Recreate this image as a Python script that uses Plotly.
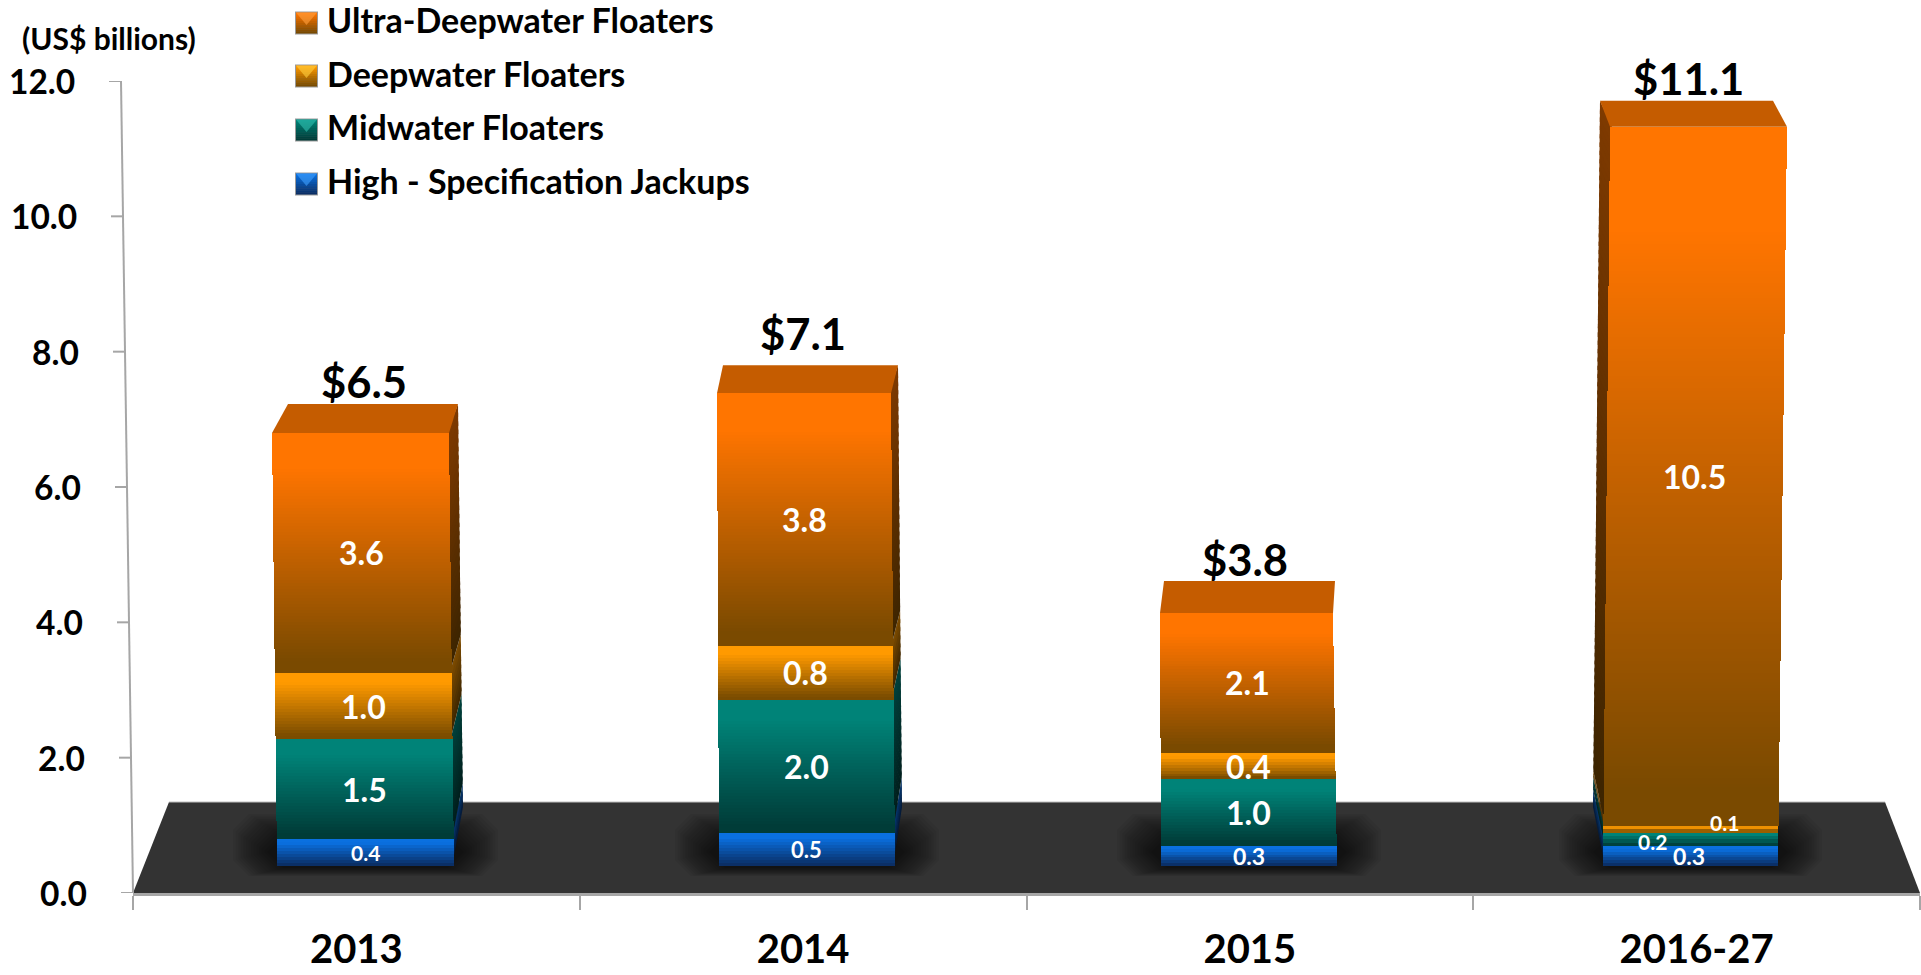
import numpy as np
import plotly.graph_objects as go

# ---------- data ----------
categories = ["2013", "2014", "2015", "2016-27"]
ultra_deepwater = [3.6, 3.8, 2.1, 10.5]
deepwater = [1.0, 0.8, 0.4, 0.1]
midwater = [1.5, 2.0, 1.0, 0.2]
high_spec_jackups = [0.4, 0.5, 0.3, 0.3]
total_labels = ["$6.5", "$7.1", "$3.8", "$11.1"]
y_ticks = [0, 2, 4, 6, 8, 10, 12]
y_tick_labels = ["0.0", "2.0", "4.0", "6.0", "8.0", "10.0", "12.0"]

series = [  # bottom to top
    ("High - Specification Jackups", high_spec_jackups, "#0A70E0", "#0B2F66"),
    ("Midwater Floaters", midwater, "#008378", "#003C38"),
    ("Deepwater Floaters", deepwater, "#FF9A00", "#7A4C00"),
    ("Ultra-Deepwater Floaters", ultra_deepwater, "#FF7500", "#7A4A00"),
]
legend_order = ["Ultra-Deepwater Floaters", "Deepwater Floaters", "Midwater Floaters", "High - Specification Jackups"]

# ---------- layout constants (pixels of the page) ----------
W, H = 1921, 975
L, R, T, B = 133, 1920, 81, 893
FONT = "Lato"
AX = "#A6A6A6"
cat_px = (R - L) / 4
BASE_PX, PX_PER = 866.0, 66.6          # the bars stand on a nearer plane than the axis
y2_range = [(BASE_PX - B) / PX_PER, (BASE_PX - T) / PX_PER]


def xd(px):
    return (px - L) / cat_px - 0.5


def xp(px):
    return (px - L) / (R - L)


def yp(py):
    return (B - py) / (B - T)


def hex2rgb(h):
    return np.array([int(h[i:i + 2], 16) for i in (1, 3, 5)], float)


def mix(c0, c1, t):
    c = hex2rgb(c0) * (1 - t) + hex2rgb(c1) * t
    return "rgb(%d,%d,%d)" % tuple(c)


def grad(c0, c1, t):
    return mix(c0, c1, float(np.clip((t - 0.15) / 0.8, 0, 1)))


# front-face edges: (left at base, right at base, left per unit value, right per unit value)
front = [
    (277, 454, -5 / 6.5, -5 / 6.5),
    (719, 895, -2 / 7.1, -4 / 7.1),
    (1161, 1337, -1 / 3.8, -4 / 3.8),
    (1603, 1778, 7 / 11.1, 9 / 11.1),
]
back_dx = [(16, 9), (6, 7), (4, 2), (-10, -14)]    # back edge shift at the top of each bar
side_dir = [1, 1, 0, -1]                           # +1 right face visible, -1 left face visible
depth_v = [0, 3.8, 6.5, 7.1, 11.1]
depth_px = [59, 32, 29, 28, 26]


def edges(i, v):
    l0, r0, ls, rs = front[i]
    return l0 + ls * v, r0 + rs * v


def depth(v):
    return float(np.interp(v, depth_v, depth_px))


shapes = []


def poly(pts, color, xref="x", yref="y2", layer="below", opacity=None):
    s = dict(type="path", xref=xref, yref=yref, layer=layer, fillcolor=color, line=dict(width=0),
             path="M " + " L ".join("%.5f,%.5f" % p for p in pts) + " Z")
    if opacity is not None:
        s["opacity"] = opacity
    shapes.append(s)


# floor
poly([(xp(133), yp(893)), (xp(169), yp(802)), (xp(1885), yp(802)), (xp(1920), yp(893))],
     "#333333", "paper", "paper")
shapes.append(dict(type="line", xref="paper", yref="paper", x0=xp(169), x1=xp(1885), y0=yp(802), y1=yp(802),
                   layer="below", line=dict(color="#BFBFBF", width=1)))

# soft shadow round each bar foot
for i in range(4):
    l0, r0 = edges(i, 0)
    for k in range(14):
        f = k / 13
        gx = 44 - 34 * f
        y0 = 814 + 22 * f
        y1 = 876 - 8 * f
        c = 16
        poly([(xp(l0 - gx + c), yp(y0)), (xp(r0 + gx - c), yp(y0)), (xp(r0 + gx), yp(y0 + c)), (xp(r0 + gx), yp(y1 - c)),
              (xp(r0 + gx - c), yp(y1)), (xp(l0 - gx + c), yp(y1)), (xp(l0 - gx), yp(y1 - c)), (xp(l0 - gx), yp(y0 + c))],
             "rgba(0,0,0,0.055)", "paper", "paper")

# side faces and top faces, all derived from the stacked values
totals = [sum(s[1][i] for s in series) for i in range(4)]
for i in range(4):
    sd = side_dir[i]
    lo = 0.0
    for name, vals, c0, c1 in series:
        hi = lo + vals[i]
        if sd != 0:
            n = max(3, int(vals[i] * 8))
            for k in range(n):
                a = lo + (hi - lo) * (1 - k / n)
                b = max(lo, lo + (hi - lo) * (1 - (k + 1.5) / n))
                ea = edges(i, a)[0 if sd < 0 else 1]
                eb = edges(i, b)[0 if sd < 0 else 1]
                dxa = abs(back_dx[i][0 if sd < 0 else 1])
                t = (k + .5) / n
                cc = (hex2rgb(c0) * (1 - t) + hex2rgb(c1) * t) * 0.5
                col = "rgb(%d,%d,%d)" % tuple(cc)
                poly([(xd(ea - sd * 2), a), (xd(ea + sd * dxa), a + depth(a) / PX_PER),
                      (xd(eb + sd * dxa), b + depth(b) / PX_PER), (xd(eb - sd * 2), b)], col)
        lo = hi
    # top face
    t = totals[i]
    lf, rf = edges(i, t)
    d = depth(t) / PX_PER
    poly([(xd(lf), t), (xd(lf + back_dx[i][0]), t + d), (xd(rf + back_dx[i][1]), t + d), (xd(rf), t)], "#C55C00")

fig = go.Figure()

# the bars
INSET = 5  # the plain bar sits inside its shaded slices, which follow the perspective lean
cum = np.zeros(4)
for name, vals, c0, c1 in series:
    vals_a = np.array(vals, float)
    base = cum.copy()
    lefts = [edges(i, base[i] + vals[i] / 2)[0] + INSET for i in range(4)]
    rights = [edges(i, base[i] + vals[i] / 2)[1] - INSET for i in range(4)]
    fig.add_trace(go.Bar(
        x=categories, y=vals, base=base.tolist(), name=name, yaxis="y2", showlegend=False,
        offset=[xd(lefts[i]) - i for i in range(4)],
        width=[(rights[i] - lefts[i]) / cat_px for i in range(4)],
        marker=dict(color=mix(c0, c1, 0.5), line=dict(width=0)),
    ))
    # vertical shading of the same segments
    sx, sb, sy, so, sw, sc = [], [], [], [], [], []
    for i in range(4):
        n = max(2, int(round(vals[i] * PX_PER / 3)))
        for k in range(n):
            a = base[i] + vals[i] * (n - k - 1) / n
            b = base[i] + vals[i] * (n - k) / n
            l, r = edges(i, (a + b) / 2)
            sx.append(categories[i]); sb.append(a); sy.append(b - a)
            so.append(xd(l) - i); sw.append((r - l) / cat_px)
            sc.append(grad(c0, c1, (k + .5) / n))
    fig.add_trace(go.Bar(x=sx, y=sy, base=sb, offset=so, width=sw, yaxis="y2", showlegend=False,
                         hoverinfo="skip", marker=dict(color=sc, line=dict(width=0))))
    cum += vals_a

annotations = []


def text(s, x, y, size, color="#000000", xref="paper", yref="paper", xanchor="center", xshift=0, yshift=0):
    annotations.append(dict(text=s, x=x, y=y, xref=xref, yref=yref, showarrow=False, xanchor=xanchor,
                            yanchor="middle", xshift=xshift, yshift=yshift,
                            font=dict(family=FONT, size=size, color=color, weight="bold")))


# value labels
small = {(0, 0): 21, (0, 1): 22, (0, 2): 23, (0, 3): 23, (1, 3): 21, (2, 3): 21}
nudge = {(1, 3): (-38, -2), (2, 3): (34, 7), (0, 3): (-2, 0)}
cum = np.zeros(4)
for si, (name, vals, c0, c1) in enumerate(series):
    for i in range(4):
        mid = cum[i] + vals[i] / 2
        l, r = edges(i, mid)
        nx, ny = nudge.get((si, i), (0, 0))
        text("%.1f" % vals[i], xd((l + r) / 2), mid, small.get((si, i), 32), "#FFFFFF", "x", "y2",
             xshift=nx, yshift=ny)
    cum += np.array(vals, float)

# totals
tot_shift = [52, 60, 54, 49]
tot_dx = [3, -1, -2, -10]
for i in range(4):
    l, r = edges(i, totals[i])
    text(total_labels[i], xd((l + r) / 2), totals[i], 43.5, xref="x", yref="y2", xshift=tot_dx[i], yshift=tot_shift[i])


# skewed value axis (its ticks sit on the axis scale)
def axis_x(v):
    return 133 - v * 1.0


shapes.append(dict(type="line", xref="paper", yref="y", x0=xp(axis_x(0)), x1=xp(axis_x(12)), y0=0, y1=12,
                   layer="above", line=dict(color=AX, width=2)))
for v, lab in zip(y_ticks, y_tick_labels):
    shapes.append(dict(type="line", xref="paper", yref="y", x0=xp(axis_x(v) - 12), x1=xp(axis_x(v)), y0=v, y1=v,
                       layer="above", line=dict(color=AX, width=2)))
    text(lab, xp(axis_x(v) - 44), v, 33.5, yref="y", xanchor="right")

text("(US$ billions)", xp(109), yp(38), 30)

# legend
legend_y = [23, 76, 130, 184]
colors = {s[0]: (s[2], s[3]) for s in series}
bright = {"Ultra-Deepwater Floaters": "#FFA040", "Deepwater Floaters": "#FFD040",
          "Midwater Floaters": "#30C0B0", "High - Specification Jackups": "#40A0FF"}
for name, cy in zip(legend_order, legend_y):
    c0, c1 = colors[name]
    n = 10
    x0, x1 = 296, 317
    top, bot = cy - 10.5, cy + 10.5
    shapes.append(dict(type="rect", xref="paper", yref="paper", x0=xp(x0 - 1), x1=xp(x1 + 1),
                       y0=yp(bot + 1), y1=yp(top - 1), fillcolor="#9A9A9A", line=dict(width=0), layer="above"))
    for k in range(n):
        a = top + (bot - top) * k / n
        b = top + (bot - top) * (k + 1.2) / n
        shapes.append(dict(type="rect", xref="paper", yref="paper", x0=xp(x0), x1=xp(x1), y0=yp(min(b, bot)), y1=yp(a),
                           fillcolor=mix(c0, c1, k / (n - 1)), line=dict(width=0), layer="above"))
    poly([(xp(x0), yp(top)), (xp(x1), yp(top)), (xp((x0 + x1) / 2), yp(cy + 2))], bright[name],
         "paper", "paper", "above", 0.6)
    text(name, xp(325), yp(cy - 3), 34, xanchor="left")

fig.update_layout(
    width=W, height=H, autosize=False,
    margin=dict(l=L, r=W - R, t=T, b=H - B, pad=0),
    paper_bgcolor="#FFFFFF", plot_bgcolor="rgba(0,0,0,0)",
    barmode="overlay", showlegend=False, bargap=0,
    shapes=shapes, annotations=annotations,
    font=dict(family=FONT),
    xaxis=dict(type="category", categoryorder="array", categoryarray=categories, range=[-0.5, 3.5],
               tickson="boundaries", ticks="outside", ticklen=14, tickwidth=2, tickcolor=AX,
               showline=True, linecolor=AX, linewidth=3, showgrid=False, zeroline=False,
               ticklabelstandoff=19,
               tickfont=dict(family=FONT, size=40, color="#000000", weight="bold"), automargin=False),
    yaxis=dict(range=[0, 12], tickvals=y_ticks, ticktext=y_tick_labels, showticklabels=False, ticks="",
               showline=False, showgrid=False, zeroline=False, automargin=False),
    yaxis2=dict(range=y2_range, overlaying="y", visible=False, showgrid=False, zeroline=False),
)

fig.write_html("out.html", config=dict(displayModeBar=False),
               post_script="document.body.style.margin='0';document.body.style.overflow='hidden';")
